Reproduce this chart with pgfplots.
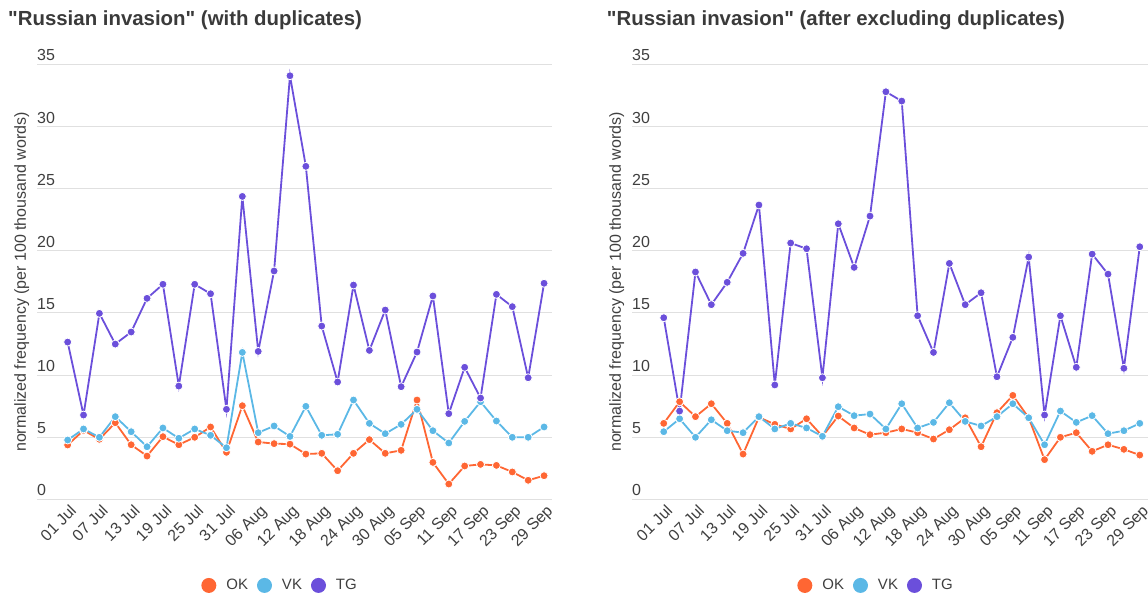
\documentclass[border=0pt]{standalone}
\usepackage{pgfplots}
\pgfplotsset{compat=1.18}
\usepackage{pgfplotstable}
\usepackage{fontspec}
\setmainfont{Liberation Sans}[Ligatures=TeXOff]
\definecolor{okc}{HTML}{FF6633}
\definecolor{vkc}{HTML}{5BB8E6}
\definecolor{tgc}{HTML}{6B4FDB}
\definecolor{txt}{HTML}{3F3F3F}
\definecolor{ttl}{HTML}{3A3A3A}
\definecolor{gridc}{HTML}{E0E0E0}

\pgfplotstableread{
i okL vkL tgL okR vkR tgR
0 4.37 4.77 12.65 6.11 5.44 14.61
1 5.55 5.66 6.78 7.85 6.48 7.10
2 4.83 4.99 14.96 6.65 4.99 18.29
3 6.16 6.65 12.49 7.69 6.40 15.66
4 4.39 5.44 13.46 6.11 5.52 17.46
5 3.48 4.23 16.17 3.64 5.36 19.79
6 5.04 5.74 17.30 6.60 6.65 23.68
7 4.39 4.91 9.11 6.03 5.66 9.20
8 4.99 5.66 17.30 5.66 6.11 20.62
9 5.82 5.15 16.54 6.48 5.74 20.16
10 3.78 4.15 7.24 5.07 5.07 9.78
11 7.53 11.82 24.37 6.70 7.45 22.17
12 4.61 5.36 11.90 5.74 6.73 18.66
13 4.48 5.90 18.37 5.20 6.86 22.79
14 4.44 5.06 34.08 5.36 5.66 32.79
15 3.64 7.48 26.79 5.66 7.69 32.04
16 3.70 5.15 13.94 5.36 5.74 14.77
17 2.30 5.23 9.44 4.85 6.19 11.82
18 3.70 7.99 17.24 5.60 7.77 18.98
19 4.80 6.11 11.98 6.56 6.27 15.66
20 3.70 5.28 15.23 4.23 5.90 16.62
21 3.94 6.03 9.06 6.97 6.65 9.86
22 7.99 7.24 11.85 8.36 7.69 13.03
23 2.97 5.52 16.36 6.56 6.56 19.49
24 1.23 4.53 6.89 3.19 4.39 6.78
25 2.68 6.27 10.62 4.99 7.10 14.77
26 2.81 7.85 8.15 5.36 6.19 10.62
27 2.73 6.30 16.49 3.86 6.73 19.73
28 2.20 4.99 15.50 4.39 5.28 18.12
29 1.53 4.99 9.78 4.02 5.52 10.54
30 1.90 5.82 17.38 3.56 6.11 20.32
}\data

\pgfplotsset{
  panel/.style={
    scale only axis, height=435bp,
    ymin=0, ymax=35, ytick={0,5,...,35},
    xtick={0,2,...,30},
    xticklabels={01 Jul,07 Jul,13 Jul,19 Jul,25 Jul,31 Jul,06 Aug,12 Aug,18 Aug,24 Aug,30 Aug,05 Sep,11 Sep,17 Sep,23 Sep,29 Sep},
    axis line style={draw=none},
    major tick length=0pt,
    ymajorgrids, grid style={gridc, line width=1bp},
    tick label style={font=\fontsize{16bp}{19bp}\selectfont, text=txt},
    /pgf/number format/assume math mode=true,
    yticklabel style={anchor=south west, inner sep=0pt, yshift=3bp},
    xticklabel style={rotate=45, anchor=north east, inner sep=2bp, yshift=-2bp},
    clip=false,
    legend columns=-1,
    legend style={draw=none, fill=none, font=\fontsize{15bp}{18bp}\selectfont, text=txt,
      anchor=center,
      /tikz/every odd column/.append style={column sep=8bp},
      /tikz/every even column/.append style={column sep=7bp}},
    legend image code/.code={\fill[##1, draw=none] (7.5bp,0bp) circle (7.5bp);},
    every axis plot/.append style={line width=1.8bp, mark=*, mark size=4bp, mark options={draw=white, line width=0.8bp}},
  }
}

\begin{document}
\begin{tikzpicture}
\path[use as bounding box] (0,0) rectangle (1148bp,-598bp);

\begin{axis}[panel, at={(37bp,-499.3bp)}, anchor=south west, width=515bp,
  xmin=-1.93, xmax=30.5,
  legend style={at={(axis description cs:0.472,-0.198)}}]
\addplot[okc] table[x=i, y=okL] {\data};
\addplot[vkc] table[x=i, y=vkL] {\data};
\addplot[tgc] table[x=i, y=tgL] {\data};
\legend{OK, VK, TG}
\end{axis}

\begin{axis}[panel, at={(632bp,-499.3bp)}, anchor=south west, width=516bp,
  xmin=-2.0, xmax=30.52,
  legend style={at={(axis description cs:0.473,-0.198)}}]
\addplot[okc] table[x=i, y=okR] {\data};
\addplot[vkc] table[x=i, y=vkR] {\data};
\addplot[tgc] table[x=i, y=tgR] {\data};
\legend{OK, VK, TG}
\end{axis}

\node[anchor=base west, inner sep=0pt, text=ttl, font=\bfseries\fontsize{20.4bp}{24bp}\selectfont] at (8bp,-25bp) {"Russian invasion" (with duplicates)};
\node[anchor=base west, inner sep=0pt, text=ttl, font=\bfseries\fontsize{20.4bp}{24bp}\selectfont] at (606.7bp,-25bp) {"Russian invasion" (after excluding duplicates)};
\node[rotate=90, anchor=center, inner sep=0pt, text=txt, font=\fontsize{16bp}{19bp}\selectfont] at (21.7bp,-282bp) {normalized frequency (per 100 thousand words)};
\node[rotate=90, anchor=center, inner sep=0pt, text=txt, font=\fontsize{16bp}{19bp}\selectfont] at (616.7bp,-282bp) {normalized frequency (per 100 thousand words)};
\end{tikzpicture}
\end{document}
